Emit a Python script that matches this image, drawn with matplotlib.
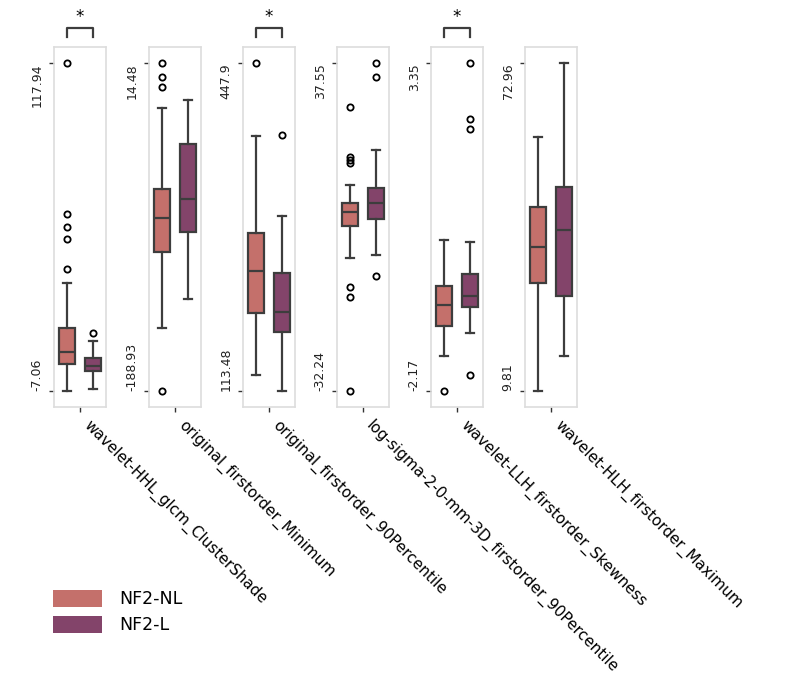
import matplotlib
matplotlib.use('Agg')
import matplotlib.pyplot as plt
from matplotlib.patches import Patch
import matplotlib.transforms as mtransforms

features = ['wavelet-HHL_glcm_ClusterShade', 'original_firstorder_Minimum',
            'original_firstorder_90Percentile', 'log-sigma-2-0-mm-3D_firstorder_90Percentile',
            'wavelet-LLH_firstorder_Skewness', 'wavelet-HLH_firstorder_Maximum']
groups = ['NF2-NL', 'NF2-L']
colors = ['#c4706b', '#83446a']
significant = [True, False, True, False, True, False]

# per feature: [NF2-NL, NF2-L] -> (whislo, q1, med, q3, whishi)
box_stats = [
    [(-7.06, 3.22, 7.79, 16.81, 34.18), (-6.41, 0.55, 2.19, 5.39, 11.98)],
    [(-150.1, -103.0, -81.9, -63.6, -13.15), (-132.1, -90.2, -70.1, -35.4, -8.2)],
    [(129.8, 193.3, 236.1, 274.8, 373.2), (113.48, 173.3, 194.3, 233.4, 291.8)],
    [(-4.03, 2.90, 5.88, 7.79, 11.55), (-3.39, 4.39, 7.87, 11.06, 18.99)],
    [(-1.582, -1.077, -0.718, -0.399, 0.369), (-1.20, -0.752, -0.573, -0.208, 0.335)],
    [(9.81, 30.64, 37.57, 45.27, 58.73), (16.54, 28.08, 40.78, 49.11, 72.96)],
]
outliers = [
    [[117.94, 60.45, 55.5, 50.7, 39.28], [14.91]],
    [[14.48, 6.25, -0.35, -188.93], []],
    [[447.9], [374.3]],
    [[28.34, 17.57, 17.01, 16.29, -10.2, -12.19, -32.24], [37.55, 34.72, -7.79]],
    [[-2.17], [3.35, 2.415, 2.247, -1.90]],
    [[], []],
]
y_min = [-7.06, -188.93, 113.48, -32.24, -2.17, 9.81]
y_max = [117.94, 14.48, 447.9, 37.55, 3.35, 72.96]

W, H = 786, 694
fig = plt.figure(figsize=(W / 100, H / 100), dpi=100)

line_c = '#3d3d3d'
ax_w, ax_top, ax_bot = 52, 47, 407
lefts = [54, 149, 243, 337, 431, 525]

for i, feat in enumerate(features):
    ax = fig.add_axes([lefts[i] / W, 1 - ax_bot / H, ax_w / W, (ax_bot - ax_top) / H])
    stats = []
    for j in range(2):
        lo, q1, med, q3, hi = box_stats[i][j]
        stats.append(dict(whislo=lo, q1=q1, med=med, q3=q3, whishi=hi, fliers=outliers[i][j]))
    bp = ax.bxp(stats, positions=[0, 1], widths=0.65, patch_artist=True,
                boxprops=dict(edgecolor=line_c, linewidth=1.6),
                medianprops=dict(color=line_c, linewidth=1.6),
                whiskerprops=dict(color=line_c, linewidth=1.6),
                capprops=dict(color=line_c, linewidth=1.6),
                capwidths=0.33,
                flierprops=dict(marker='o', markersize=4.5, markerfacecolor='none',
                                markeredgecolor='black', markeredgewidth=1.3))
    for patch, c in zip(bp['boxes'], colors):
        patch.set_facecolor(c)
    ax.set_xlim(-0.5, 1.5)
    span = y_max[i] - y_min[i]
    ax.set_ylim(y_min[i] - 0.05 * span, y_max[i] + 0.05 * span)
    ax.set_yticks([y_min[i], y_max[i]])
    ax.set_yticklabels([f'{y_min[i]:g}', f'{y_max[i]:g}'], rotation=90, fontsize=9, color='#222222')
    labs = ax.get_yticklabels()
    labs[0].set_va('bottom')
    labs[1].set_va('top')
    ax.set_xticks([0.5])
    ax.set_xticklabels([feat], rotation=-45, ha='left', va='top', fontsize=11)
    ax.tick_params(axis='both', length=3.5, width=1, color='#333333', pad=4)
    for s in ax.spines.values():
        s.set_color('#dddddd')
        s.set_linewidth(1.2)

    if significant[i]:
        tr = mtransforms.blended_transform_factory(ax.transData, ax.transAxes)
        ax.plot([0, 0, 1, 1], [1.028, 1.053, 1.053, 1.028], color=line_c, lw=1.6,
                transform=tr, clip_on=False)
        ax.text(0.5, 1.058, '*', ha='center', va='bottom', fontsize=12, transform=tr)

handles = [Patch(facecolor=c, label=g) for c, g in zip(colors, groups)]
fig.legend(handles=handles, loc='upper left', bbox_to_anchor=(53 / W, 1 - 590 / H),
           frameon=False, fontsize=12.5, handlelength=2.8, handleheight=1.1,
           handletextpad=1.0, labelspacing=0.45, borderpad=0, borderaxespad=0)

fig.savefig('out.png', dpi=100)
